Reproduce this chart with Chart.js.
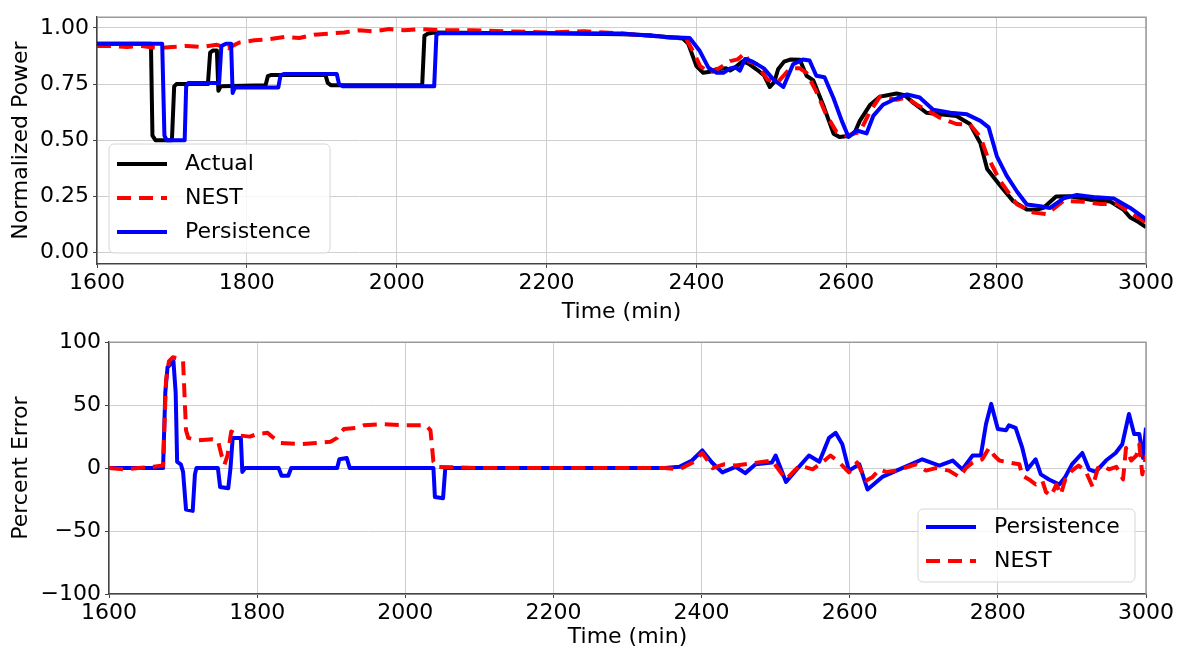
<!DOCTYPE html>
<html>
<head>
<meta charset="utf-8">
<script src="https://cdn.jsdelivr.net/npm/chart.js@4.4.1/dist/chart.umd.min.js"></script>
<style>
  html, body { margin: 0; padding: 0; background: #fff; }
  #wrap { position: relative; width: 1179px; height: 650px; }
  canvas { position: absolute; left: 0; }
  #powerChart { top: 0; }
  #errorChart { top: 325px; }
</style>
</head>
<body>
<div id="wrap">
  <canvas id="powerChart" width="1179" height="325"></canvas>
  <canvas id="errorChart" width="1179" height="325"></canvas>
</div>
<script>
// tick labels
const timeTicks = [1600, 1800, 2000, 2200, 2400, 2600, 2800, 3000];
const powerTicks = [0, 0.25, 0.5, 0.75, 1.0];
const errorTicks = [-100, -50, 0, 50, 100];

// top: normalized power
const actualTime = [1600, 1672, 1674, 1678, 1700, 1703, 1706, 1748, 1751, 1755, 1760, 1762, 1765, 1825, 1828, 1832, 1905, 1908, 1912, 2034, 2037, 2042, 2050, 2120, 2200, 2300, 2340, 2360, 2382, 2389, 2400, 2409, 2418, 2427, 2440, 2445, 2450, 2462, 2470, 2480, 2490, 2498, 2504, 2509, 2517, 2525, 2538, 2547, 2556, 2569, 2583, 2591, 2605, 2612, 2618, 2632, 2645, 2655, 2667, 2678, 2690, 2707, 2725, 2747, 2765, 2779, 2788, 2805, 2823, 2841, 2855, 2863, 2880, 2898, 2926, 2952, 2970, 2979, 2990, 3000];
const actualPower = [0.93, 0.93, 0.52, 0.50, 0.50, 0.74, 0.75, 0.75, 0.89, 0.90, 0.90, 0.72, 0.74, 0.745, 0.785, 0.79, 0.79, 0.755, 0.745, 0.745, 0.965, 0.975, 0.98, 0.978, 0.977, 0.972, 0.967, 0.96, 0.953, 0.93, 0.83, 0.80, 0.805, 0.816, 0.82, 0.81, 0.82, 0.852, 0.84, 0.816, 0.79, 0.737, 0.76, 0.816, 0.85, 0.859, 0.858, 0.787, 0.766, 0.658, 0.529, 0.514, 0.52, 0.54, 0.586, 0.658, 0.694, 0.70, 0.708, 0.70, 0.665, 0.622, 0.615, 0.608, 0.572, 0.486, 0.371, 0.299, 0.227, 0.191, 0.19, 0.198, 0.249, 0.25, 0.234, 0.227, 0.19, 0.155, 0.135, 0.112];

const nestTime = [1600, 1620, 1640, 1660, 1680, 1700, 1720, 1740, 1760, 1775, 1790, 1810, 1830, 1850, 1870, 1890, 1910, 1930, 1950, 1970, 1990, 2010, 2030, 2060, 2100, 2150, 2200, 2250, 2300, 2340, 2370, 2385, 2395, 2405, 2418, 2430, 2445, 2455, 2465, 2470, 2480, 2495, 2509, 2525, 2538, 2547, 2560, 2573, 2587, 2600, 2618, 2632, 2645, 2667, 2680, 2694, 2710, 2725, 2747, 2765, 2779, 2788, 2805, 2828, 2850, 2868, 2890, 2917, 2939, 2962, 2979, 3000];
const nestPower = [0.92, 0.92, 0.915, 0.92, 0.91, 0.915, 0.92, 0.915, 0.925, 0.91, 0.935, 0.945, 0.95, 0.96, 0.955, 0.97, 0.975, 0.98, 0.99, 0.985, 0.995, 0.99, 0.995, 0.99, 0.99, 0.985, 0.98, 0.985, 0.975, 0.965, 0.955, 0.96, 0.90, 0.83, 0.80, 0.82, 0.852, 0.86, 0.888, 0.85, 0.84, 0.77, 0.76, 0.82, 0.82, 0.80, 0.716, 0.615, 0.536, 0.52, 0.536, 0.63, 0.694, 0.68, 0.69, 0.658, 0.63, 0.60, 0.572, 0.57, 0.514, 0.43, 0.32, 0.213, 0.177, 0.17, 0.23, 0.225, 0.215, 0.215, 0.177, 0.133];

const persistTime = [1600, 1687, 1690, 1693, 1717, 1719, 1722, 1763, 1766, 1772, 1779, 1781, 1784, 1842, 1845, 1850, 1920, 1923, 1928, 2050, 2053, 2058, 2200, 2300, 2360, 2391, 2404, 2416, 2427, 2436, 2445, 2452, 2458, 2465, 2475, 2490, 2502, 2516, 2529, 2542, 2551, 2560, 2571, 2583, 2594, 2603, 2614, 2627, 2636, 2649, 2663, 2681, 2698, 2716, 2739, 2761, 2779, 2790, 2801, 2814, 2828, 2841, 2859, 2872, 2890, 2908, 2934, 2957, 2979, 3000];
const persistPower = [0.93, 0.93, 0.52, 0.50, 0.50, 0.74, 0.755, 0.755, 0.92, 0.93, 0.93, 0.71, 0.735, 0.735, 0.79, 0.795, 0.795, 0.75, 0.74, 0.74, 0.97, 0.978, 0.977, 0.975, 0.96, 0.955, 0.90, 0.823, 0.80, 0.80, 0.82, 0.825, 0.81, 0.862, 0.85, 0.82, 0.773, 0.737, 0.838, 0.859, 0.855, 0.787, 0.78, 0.687, 0.586, 0.514, 0.543, 0.53, 0.608, 0.658, 0.68, 0.704, 0.69, 0.636, 0.622, 0.615, 0.586, 0.557, 0.428, 0.342, 0.27, 0.213, 0.205, 0.198, 0.241, 0.256, 0.245, 0.24, 0.198, 0.148];

// bottom: percent error
const persistErrTime = [1600, 1673, 1676, 1679, 1687, 1690, 1692, 1697, 1700, 1704, 1713, 1716, 1718, 1747, 1750, 1761, 1764, 1767, 1778, 1780, 1784, 1829, 1833, 1842, 1846, 1908, 1911, 1921, 1925, 2038, 2040, 2051, 2054, 2350, 2370, 2387, 2401, 2414, 2428, 2446, 2459, 2473, 2495, 2500, 2514, 2527, 2545, 2559, 2572, 2581, 2590, 2599, 2613, 2624, 2644, 2667, 2698, 2721, 2739, 2752, 2766, 2777, 2784, 2791, 2800, 2811, 2815, 2824, 2833, 2840, 2851, 2858, 2869, 2883, 2891, 2900, 2914, 2923, 2932, 2946, 2959, 2968, 2977, 2984, 2991, 2996, 3000];
const persistErr = [0, 0, 60, 80, 85, 60, 5, 3, -3, -33, -34, -5, 0, 0, -15, -16, 0, 24, 24, -3, 0, 0, -6, -6, 0, 0, 7, 8, 0, 0, -23, -24, 0, 0, 1, 6, 14, 4.5, -3.4, 1, -4, 3, 4.5, 10, -11, -2, 10, 5, 24, 28, 19, -2, 3, -17, -7, -1, 7, 2, 6, -1, 10, 10, 35, 51, 31, 30, 34, 32, 16, -1, 7, -5, -9, -13, -7, 3, 12, -1, -3, 6, 12, 19, 43, 27, 27, 8, 32];

const nestErrTime = [1600, 1620, 1640, 1660, 1673, 1677, 1681, 1686, 1696, 1700, 1704, 1707, 1720, 1740, 1747, 1752, 1756, 1760, 1765, 1775, 1790, 1800, 1814, 1820, 1832, 1860, 1880, 1899, 1908, 1917, 1935, 1944, 1970, 2000, 2028, 2034, 2038, 2043, 2100, 2200, 2300, 2350, 2370, 2387, 2401, 2415, 2430, 2446, 2470, 2495, 2514, 2532, 2550, 2568, 2574, 2586, 2599, 2610, 2622, 2631, 2640, 2649, 2662, 2676, 2689, 2703, 2716, 2734, 2748, 2757, 2766, 2779, 2788, 2795, 2802, 2815, 2829, 2833, 2842, 2851, 2860, 2865, 2872, 2879, 2885, 2891, 2900, 2909, 2919, 2928, 2935, 2941, 2950, 2960, 2969, 2973, 2980, 2987, 2991, 2995, 3000];
const nestErr = [0, -1, 0, 1, 2, 70, 85, 88, 87, 85, 30, 24, 22, 23, 22, 10, 3, 10, 29, 26, 25, 27, 28, 25, 20, 19, 20, 21, 24, 31, 32, 34, 35, 34, 34, 30, 5, 1, 0, 0, 0, 0, -1, 4, 12, 0, 3, 2, 4, 6, -9, 2, -1, 7, 10, 4.5, -3.4, 4.5, -10, -7, -1, -3, -2, 0.5, 3, -2, 0, -2, -7, 0, 4.5, 7, 16, 10, 6, 4.5, 3, -6, -9, -13, -10, -19, -22, -13, -21, -9, -2, 2, -3, -15, 0, 2, -1, 1, -9, 16, 6, 10, 19, -5, 10];

function points(xs, ys) {
    return xs.map((x, i) => ({ x: x, y: ys[i] }));
}

Chart.defaults.font.family = "'DejaVu Sans', sans-serif";
Chart.defaults.font.size = 22;
Chart.defaults.color = "#000";

// legend box inside the plot area (matplotlib style)
const boxLegend = {
    id: "boxLegend",
    afterDraw(chart, args, opts) {
        const ctx = chart.ctx;
        const area = chart.chartArea;
        const x = opts.right != null ? area.right - opts.right - opts.width : area.left + opts.left;
        const y = area.bottom - opts.bottom - opts.height;
        const w = opts.width, h = opts.height, r = 5;
        ctx.save();
        ctx.beginPath();
        ctx.moveTo(x + r, y);
        ctx.arcTo(x + w, y, x + w, y + h, r);
        ctx.arcTo(x + w, y + h, x, y + h, r);
        ctx.arcTo(x, y + h, x, y, r);
        ctx.arcTo(x, y, x + w, y, r);
        ctx.closePath();
        ctx.fillStyle = "rgba(255,255,255,0.8)";
        ctx.fill();
        ctx.strokeStyle = "#d6d6d6";
        ctx.lineWidth = 1;
        ctx.stroke();
        ctx.font = "22px 'DejaVu Sans', sans-serif";
        ctx.textBaseline = "middle";
        ctx.fillStyle = "#000";
        opts.items.forEach((idx, i) => {
            const ds = chart.data.datasets[idx];
            const cy = y + opts.firstRow + i * opts.rowGap;
            ctx.beginPath();
            ctx.setLineDash(ds.borderDash || []);
            ctx.strokeStyle = ds.borderColor;
            ctx.lineWidth = 4;
            ctx.moveTo(x + 8, cy);
            ctx.lineTo(x + 58, cy);
            ctx.stroke();
            ctx.setLineDash([]);
            ctx.fillText(ds.label, x + 76, cy);
        });
        ctx.restore();
    },
};

// top and right spines
const frame = {
    id: "frame",
    afterDraw(chart) {
        const ctx = chart.ctx;
        const a = chart.chartArea;
        ctx.save();
        ctx.strokeStyle = "#9a9a9a";
        ctx.lineWidth = 1.5;
        ctx.beginPath();
        ctx.moveTo(a.left, a.top);
        ctx.lineTo(a.right, a.top);
        ctx.lineTo(a.right, a.bottom);
        ctx.stroke();
        ctx.restore();
    },
};

function xScale(height, titlePad) {
    return {
        type: "linear",
        min: 1600,
        max: 3000,
        afterBuildTicks: (s) => { s.ticks = timeTicks.map((v) => ({ value: v })); },
        afterFit: (s) => { s.height = height; },
        ticks: { padding: 2, callback: (v) => String(v) },
        grid: { color: "#cfcfcf", tickColor: "#444", tickLength: 4 },
        border: { color: "#444", width: 1.5 },
        title: { display: true, text: "Time (min)", padding: { top: titlePad, bottom: 0 } },
    };
}

const lineStyle = { borderWidth: 4, tension: 0, borderJoinStyle: "round" };

document.addEventListener("DOMContentLoaded", function () {
    // Normalized power (top)
    new Chart(document.getElementById("powerChart"), {
        type: "line",
        data: {
            datasets: [
                { label: "Actual", data: points(actualTime, actualPower), borderColor: "#000000", order: 2 },
                { label: "NEST", data: points(nestTime, nestPower), borderColor: "#ff0000", borderDash: [14, 8], order: 1 },
                { label: "Persistence", data: points(persistTime, persistPower), borderColor: "#0000ff", order: 0 },
            ],
        },
        options: {
            responsive: false,
            animation: false,
            elements: { point: { radius: 0 }, line: lineStyle },
            layout: { padding: { top: 10, right: 33, left: 0, bottom: 0 } },
            plugins: {
                legend: { display: false },
                tooltip: { enabled: false },
                boxLegend: { left: 12, bottom: 11, width: 221, height: 109, firstRow: 20, rowGap: 34, items: [0, 1, 2] },
            },
            scales: {
                x: xScale(61, 8),
                y: {
                    min: -0.052,
                    max: 1.048,
                    afterBuildTicks: (s) => { s.ticks = powerTicks.map((v) => ({ value: v })); },
                    afterFit: (s) => { s.width = 97; },
                    ticks: { padding: 4, callback: (v) => v.toFixed(2) },
                    grid: { color: "#cfcfcf", tickColor: "#444", tickLength: 4 },
                    border: { color: "#444", width: 1.5 },
                    title: { display: true, text: "Normalized Power", padding: { top: 8, bottom: 0 } },
                },
            },
        },
        plugins: [boxLegend, frame],
    });

    // Percent error (bottom)
    new Chart(document.getElementById("errorChart"), {
        type: "line",
        data: {
            datasets: [
                { label: "Persistence", data: points(persistErrTime, persistErr), borderColor: "#0000ff", order: 1 },
                { label: "NEST", data: points(nestErrTime, nestErr), borderColor: "#ff0000", borderDash: [14, 8], order: 0 },
            ],
        },
        options: {
            responsive: false,
            animation: false,
            elements: { point: { radius: 0 }, line: lineStyle },
            layout: { padding: { top: 16, right: 33, left: 0, bottom: 0 } },
            plugins: {
                legend: { display: false },
                tooltip: { enabled: false },
                boxLegend: { right: 11, bottom: 12, width: 217, height: 73, firstRow: 18, rowGap: 34, items: [0, 1] },
            },
            scales: {
                x: xScale(56, 1),
                y: {
                    min: -100,
                    max: 100,
                    afterBuildTicks: (s) => { s.ticks = errorTicks.map((v) => ({ value: v })); },
                    afterFit: (s) => { s.width = 109; },
                    ticks: { padding: 4, callback: (v) => (v < 0 ? "\u2212" + Math.abs(v) : String(v)) },
                    grid: { color: "#cfcfcf", tickColor: "#444", tickLength: 4 },
                    border: { color: "#444", width: 1.5 },
                    title: { display: true, text: "Percent Error", padding: { top: 8, bottom: 0 } },
                },
            },
        },
        plugins: [boxLegend, frame],
    });
});
</script>
</body>
</html>
